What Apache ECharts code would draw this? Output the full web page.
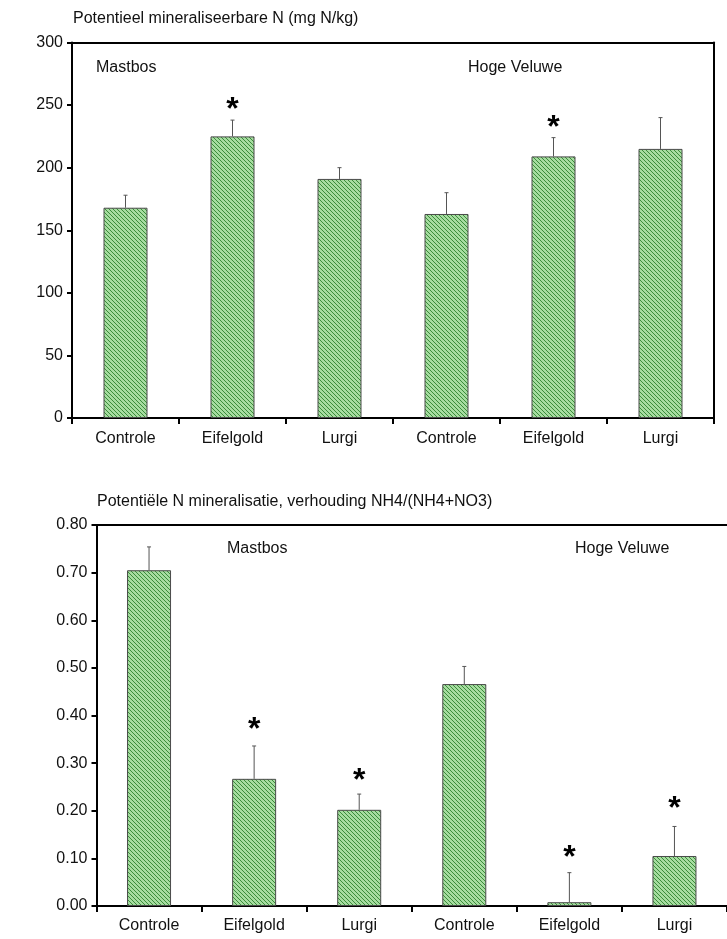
<!DOCTYPE html>
<html>
<head>
<meta charset="utf-8">
<script src="https://cdn.jsdelivr.net/npm/echarts@6/dist/echarts.min.js"></script>
<style>
html,body{margin:0;padding:0;background:#fff;}
#c{width:727px;height:939px;}
</style>
</head>
<body>
<div id="c"></div>
<script>
// ---- data ----
const categories = ['Controle', 'Eifelgold', 'Lurgi', 'Controle', 'Eifelgold', 'Lurgi'];
// top chart: Potentieel mineraliseerbare N (mg N/kg)
const nMean = [168, 225, 191, 163, 209, 215];
const nErr  = [10, 13, 9, 17, 15, 25];
const nStar = [null, 252, null, null, 238, null];
// bottom chart: NH4/(NH4+NO3)
const rMean = [0.705, 0.267, 0.202, 0.466, 0.008, 0.105];
const rErr  = [0.049, 0.069, 0.033, 0.037, 0.062, 0.062];
const rStar = [null, 0.387, 0.279, null, 0.118, 0.220];
const topTitle = 'Potentieel mineraliseerbare N (mg N/kg)';
const bottomTitle = 'Potentiële N mineralisatie, verhouding NH4/(NH4+NO3)';
const groupLabels = ['Mastbos', 'Hoge Veluwe'];

// ---- hatch pattern ----
function hatch() {
  const c = document.createElement('canvas');
  c.width = 4; c.height = 4;
  const g = c.getContext('2d');
  g.fillStyle = '#a6dca0';
  g.fillRect(0, 0, 4, 4);
  g.fillStyle = '#3b8c3b';
  for (let i = 0; i < 4; i++) g.fillRect(i, i, 1, 1);
  return c;
}
const pat = { image: hatch(), repeat: 'repeat' };

const FONT = "'Liberation Sans', Arial, sans-serif";
const chart = echarts.init(document.getElementById('c'), null, { renderer: 'canvas' });

function errData(mean, err) {
  return mean.map((m, i) => [i, m, m + err[i]]);
}
function starData(st) {
  const out = [];
  st.forEach((v, i) => { if (v !== null) out.push([i, v]); });
  return out;
}
function errRender(params, api) {
  const b = api.coord([api.value(0), api.value(1)]);
  const t = api.coord([api.value(0), api.value(2)]);
  const st = { stroke: '#555', lineWidth: 1 };
  return {
    type: 'group',
    children: [
      { type: 'line', shape: { x1: b[0], y1: b[1], x2: t[0], y2: t[1] }, style: st },
      { type: 'line', shape: { x1: t[0] - 2, y1: t[1], x2: t[0] + 2, y2: t[1] }, style: st }
    ]
  };
}
function starRender(params, api) {
  const p = api.coord([api.value(0), api.value(1)]);
  return {
    type: 'text', x: p[0], y: p[1] + 8,
    style: { text: '*', fontSize: 32, fontWeight: 'bold', fontFamily: FONT, fill: '#000', align: 'center', verticalAlign: 'middle' }
  };
}

const axisLineStyle = { color: '#000', width: 2 };
const labelStyle = { color: '#111', fontSize: 16, fontFamily: FONT };
function borderAxis() {
  return { axisLine: { show: true, onZero: false, lineStyle: axisLineStyle }, axisTick: { show: false }, axisLabel: { show: false }, splitLine: { show: false } };
}

const option = {
  animation: false,
  backgroundColor: '#fff',
  grid: [
    { left: 72, top: 42.5, width: 642, height: 375.5 },
    { left: 96.5, top: 525, width: 640, height: 381 }
  ],
  xAxis: [
    { type: 'category', gridIndex: 0, data: categories, boundaryGap: true,
      axisLine: { onZero: false, lineStyle: axisLineStyle }, axisTick: { show: true, length: 6, lineStyle: { color: '#000', width: 2 } },
      axisLabel: Object.assign({ margin: 13, interval: 0 }, labelStyle) },
    { type: 'category', gridIndex: 1, data: categories, boundaryGap: true,
      axisLine: { onZero: false, lineStyle: axisLineStyle }, axisTick: { show: true, length: 6, lineStyle: { color: '#000', width: 2 } },
      axisLabel: Object.assign({ margin: 12, interval: 0 }, labelStyle) },
    Object.assign({ type: 'category', gridIndex: 0, position: 'top', data: categories }, borderAxis()),
    Object.assign({ type: 'category', gridIndex: 1, position: 'top', data: categories }, borderAxis())
  ],
  yAxis: [
    { type: 'value', gridIndex: 0, min: 0, max: 300, interval: 50,
      axisLine: { show: true, onZero: false, lineStyle: axisLineStyle }, axisTick: { show: true, length: 5, lineStyle: { color: '#000', width: 2 } },
      splitLine: { show: false },
      axisLabel: Object.assign({ margin: 9 }, labelStyle) },
    { type: 'value', gridIndex: 1, min: 0, max: 0.8, interval: 0.1,
      axisLine: { show: true, onZero: false, lineStyle: axisLineStyle }, axisTick: { show: true, length: 5, lineStyle: { color: '#000', width: 2 } },
      splitLine: { show: false },
      axisLabel: Object.assign({ margin: 9, formatter: v => v.toFixed(2) }, labelStyle) },
    Object.assign({ type: 'value', gridIndex: 0, position: 'right', min: 0, max: 300, interval: 50 }, borderAxis())
  ],
  series: [
    { type: 'bar', xAxisIndex: 0, yAxisIndex: 0, data: nMean, barWidth: 44,
      itemStyle: { color: pat, borderColor: '#4a4a4a', borderWidth: 1 } },
    { type: 'custom', xAxisIndex: 0, yAxisIndex: 0, data: errData(nMean, nErr), renderItem: errRender, z: 5 },
    { type: 'custom', xAxisIndex: 0, yAxisIndex: 0, data: starData(nStar), renderItem: starRender, z: 6 },
    { type: 'bar', xAxisIndex: 1, yAxisIndex: 1, data: rMean, barWidth: 44,
      itemStyle: { color: pat, borderColor: '#4a4a4a', borderWidth: 1 } },
    { type: 'custom', xAxisIndex: 1, yAxisIndex: 1, data: errData(rMean, rErr), renderItem: errRender, z: 5 },
    { type: 'custom', xAxisIndex: 1, yAxisIndex: 1, data: starData(rStar), renderItem: starRender, z: 6 }
  ],
  graphic: [
    { type: 'text', left: 73, top: 11, style: { text: topTitle, fontSize: 16, fontFamily: FONT, fill: '#111' } },
    { type: 'text', left: 96, top: 60, style: { text: groupLabels[0], fontSize: 16, fontFamily: FONT, fill: '#111' } },
    { type: 'text', left: 468, top: 60, style: { text: groupLabels[1], fontSize: 16, fontFamily: FONT, fill: '#111' } },
    { type: 'text', left: 97, top: 494, style: { text: bottomTitle, fontSize: 16, fontFamily: FONT, fill: '#111' } },
    { type: 'text', left: 227, top: 541, style: { text: groupLabels[0], fontSize: 16, fontFamily: FONT, fill: '#111' } },
    { type: 'text', left: 575, top: 541, style: { text: groupLabels[1], fontSize: 16, fontFamily: FONT, fill: '#111' } }
  ]
};
chart.setOption(option);
</script>
</body>
</html>
